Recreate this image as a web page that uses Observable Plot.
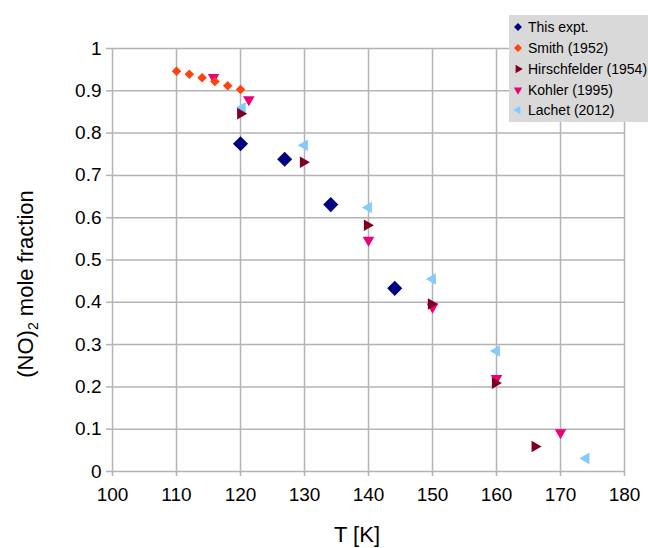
<!DOCTYPE html>
<html>
<head>
<meta charset="utf-8">
<script src="https://cdn.jsdelivr.net/npm/d3@7"></script>
<script src="https://cdn.jsdelivr.net/npm/@observablehq/plot@0.6"></script>
<style>
  html, body { margin: 0; padding: 0; background: #fff; }
  #wrap { position: relative; width: 648px; height: 548px; overflow: hidden; font-family: "Liberation Sans", Arial, sans-serif; }
  #legend { position: absolute; left: 509px; top: 15px; width: 139px; height: 107px; background: #d9d9d9; }
  #legend .row { position: absolute; left: 0; height: 20px; display: flex; align-items: center; font-size: 14px; color: #000; white-space: nowrap; }
  #legend svg { display: block; margin-left: 3px; margin-right: 4px; }
</style>
</head>
<body>
<div id="wrap"></div>
<script>
// Series: temperature (K) and (NO)2 mole fraction
const thisT = [120, 126.9, 134.1, 144.1];
const thisY = [0.775, 0.738, 0.631, 0.433];

const smithT = [110, 112, 114, 116, 118, 120];
const smithY = [0.946, 0.939, 0.931, 0.922, 0.912, 0.903];

const hirschT = [120, 129.8, 139.8, 149.8, 159.8, 166];
const hirschY = [0.846, 0.731, 0.582, 0.396, 0.209, 0.059];

const kohlerT = [115.8, 121.3, 140, 150, 160, 170];
const kohlerY = [0.932, 0.879, 0.547, 0.389, 0.22, 0.092];

const lachetT = [120.3, 130, 140, 150, 160, 174];
const lachetY = [0.86, 0.771, 0.624, 0.455, 0.285, 0.031];

const xTicks = [100, 110, 120, 130, 140, 150, 160, 170, 180];
const yTicks = [0, 0.1, 0.2, 0.3, 0.4, 0.5, 0.6, 0.7, 0.8, 0.9, 1];

const seriesNames = ["This expt.", "Smith (1952)", "Hirschfelder (1954)", "Kohler (1995)", "Lachet (2012)"];
const seriesColors = ["#000080", "#ff420e", "#7e0021", "#ee0077", "#83caff"];
const seriesSymbols = ["diamond2", "diamond2", "triangle", "triangle", "triangle"];
const seriesRotate = [0, 0, 90, 180, -90];

const rows = (ts, ys) => ts.map((t, i) => ({t, y: ys[i]}));
const dotOpts = (k, r) => ({
  x: "t", y: "y", r, symbol: seriesSymbols[k], fill: seriesColors[k],
  stroke: "none", rotate: seriesRotate[k]
});

const chart = Plot.plot({
  width: 648,
  height: 548,
  marginLeft: 112,
  marginRight: 24,
  marginTop: 48,
  marginBottom: 77,
  x: {domain: [100, 180]},
  y: {domain: [0, 1]},
  style: {fontFamily: "Liberation Sans, Arial, sans-serif", fontSize: "19px", color: "#000", background: "#fff"},
  marks: [
    Plot.gridX(xTicks, {stroke: "#b3b3b3", strokeOpacity: 1, strokeWidth: 1.5}),
    Plot.gridY(yTicks, {stroke: "#b3b3b3", strokeOpacity: 1, strokeWidth: 1.5}),
    Plot.axisX(xTicks, {tickSize: 5, tickPadding: 11, stroke: "#b3b3b3", strokeWidth: 1.5, label: null, tickFormat: d => String(d)}),
    Plot.axisY(yTicks, {tickSize: 6, tickPadding: 5, stroke: "#b3b3b3", strokeWidth: 1.5, label: null, tickFormat: d => String(d)}),
    Plot.dot(rows(kohlerT, kohlerY), dotOpts(3, 4.3)),
    Plot.dot(rows(lachetT, lachetY), dotOpts(4, 4.3)),
    Plot.dot(rows(hirschT, hirschY), dotOpts(2, 4.3)),
    Plot.dot(rows(thisT, thisY), dotOpts(0, 6.8)),
    Plot.dot(rows(smithT, smithY), dotOpts(1, 4.3))
  ]
});

const wrap = document.getElementById("wrap");
wrap.appendChild(chart);

// Axis titles
const svg = d3.select(chart);
svg.append("text")
  .attr("x", 357).attr("y", 542)
  .attr("text-anchor", "middle")
  .attr("font-size", 22).attr("fill", "#000")
  .text("T [K]");

const yt = svg.append("text")
  .attr("transform", "translate(33,284) rotate(-90)")
  .attr("text-anchor", "middle")
  .attr("font-size", 22).attr("fill", "#000");
yt.append("tspan").text("(NO)");
yt.append("tspan").attr("font-size", 14).attr("dy", 5).text("2");
yt.append("tspan").attr("dy", -5).text(" mole fraction");

// Legend
const legend = d3.select(wrap).append("div").attr("id", "legend");
const rowTops = [2, 23, 44, 65, 85];
seriesNames.forEach((name, k) => {
  const row = legend.append("div").attr("class", "row").style("top", rowTops[k] + "px");
  const s = row.append("svg").attr("width", 12).attr("height", 12);
  const sym = k < 2 ? d3.symbolDiamond2 : d3.symbolTriangle;
  s.append("path")
    .attr("d", d3.symbol(sym, k < 2 ? 40 : 30)())
    .attr("transform", `translate(6,6) rotate(${seriesRotate[k]})`)
    .attr("fill", seriesColors[k]);
  row.append("span").text(name);
});
</script>
</body>
</html>
